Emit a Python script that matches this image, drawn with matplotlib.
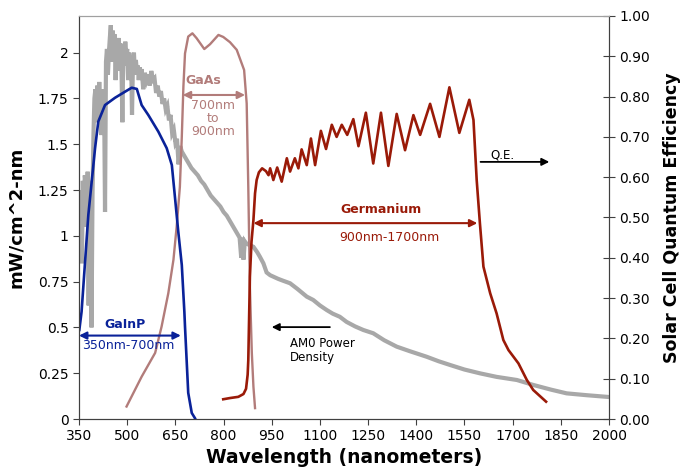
import matplotlib
matplotlib.use('Agg')
import matplotlib.pyplot as plt

# AM0 power density (left axis, mW/cm^2-nm)
wl_am0 = [350, 353, 356, 359, 362, 365, 368, 371, 374, 377,
          380, 383, 386, 389, 392, 395, 398, 401, 404, 407,
          410, 413, 416, 419, 422, 425, 428, 431, 434, 437,
          440, 443, 446, 449, 452, 455, 458, 461, 464, 467,
          470, 473, 476, 479, 482, 485, 488, 491, 494, 497,
          500, 503, 506, 509, 512, 515, 518, 521, 524, 527,
          530, 533, 536, 539, 542, 545, 550, 555, 560, 565,
          570, 575, 580, 585, 590, 595, 600, 605, 610, 615,
          620, 625, 630, 635, 640, 645, 650, 655, 660, 665,
          670, 680, 690, 700, 710, 720, 730, 740, 750, 760,
          770, 780, 790, 800, 810, 820, 830, 840, 850, 855,
          858, 862, 866, 870, 880, 893, 905, 913, 924, 934,
          945, 955, 970, 985, 1007, 1030, 1059, 1079, 1100, 1121,
          1140, 1162, 1183, 1210, 1235, 1266, 1300, 1339, 1380, 1432,
          1470, 1505, 1550, 1599, 1650, 1713, 1764, 1820, 1868, 1930, 2000]
am0 = [1.20, 0.95, 1.25, 0.85, 1.30, 1.05, 1.33, 1.28, 1.10, 1.35,
       0.62, 1.30, 1.00, 0.50, 1.22, 1.55, 1.75, 1.80, 1.62, 1.82,
       1.70, 1.84, 1.72, 1.55, 1.80, 1.70, 1.78, 1.13, 1.95, 2.02,
       1.88, 2.00, 2.08, 2.15, 1.95, 2.12, 2.05, 2.10, 1.85, 2.05,
       1.98, 2.08, 1.90, 2.05, 1.95, 1.62, 2.00, 1.93, 2.06, 1.98,
       2.02, 1.85, 2.00, 1.92, 1.98, 1.66, 1.95, 2.00, 1.88, 1.96,
       1.90, 1.93, 1.85, 1.92, 1.88, 1.91, 1.80, 1.89, 1.85, 1.88,
       1.82, 1.90, 1.85, 1.86, 1.78, 1.82, 1.76, 1.79, 1.72, 1.75,
       1.69, 1.71, 1.63, 1.66, 1.56, 1.58, 1.51, 1.53, 1.39, 1.49,
       1.46, 1.43, 1.40, 1.37, 1.35, 1.33, 1.30, 1.28, 1.25, 1.22,
       1.20, 1.18, 1.16, 1.13, 1.11, 1.08, 1.05, 1.02, 0.99, 0.88,
       0.99, 0.87, 0.97, 0.96, 0.95, 0.94, 0.91, 0.886, 0.85, 0.80,
       0.785, 0.777, 0.765, 0.755, 0.741, 0.71, 0.668, 0.65, 0.62, 0.595,
       0.575, 0.558, 0.530, 0.505, 0.486, 0.468, 0.43, 0.395, 0.37, 0.340,
       0.315, 0.295, 0.27, 0.249, 0.23, 0.213, 0.186, 0.16, 0.140, 0.13, 0.12]

# quantum efficiency curves (right axis)
wl_gainp = [351, 358, 379, 400, 410, 431, 462, 493, 514, 530, 545, 566,
            597, 623, 639, 649, 659, 670, 678, 680, 690, 701, 711]
qe_gainp = [0.221, 0.266, 0.506, 0.672, 0.738, 0.779, 0.797, 0.812, 0.822, 0.819, 0.779, 0.754,
            0.713, 0.672, 0.630, 0.548, 0.465, 0.382, 0.266, 0.229, 0.065, 0.015, 0.002]

wl_gaas = [498, 545, 587, 607, 628, 644, 654, 664, 670, 675, 680, 690, 703,
           716, 740, 758, 784, 799, 820, 841, 864, 872, 877, 882, 888, 893, 898]
qe_gaas = [0.031, 0.105, 0.164, 0.229, 0.312, 0.395, 0.477, 0.576, 0.700, 0.825, 0.907, 0.949, 0.957,
           0.945, 0.918, 0.930, 0.953, 0.948, 0.935, 0.916, 0.866, 0.783, 0.576, 0.328, 0.164, 0.080, 0.027]

wl_ge = [799, 820, 846, 862, 870, 875, 877, 879, 882, 887, 893, 898, 903, 910,
         920, 932, 940, 945, 955, 967, 981, 997, 1007, 1022, 1033, 1043, 1059,
         1072, 1085, 1103, 1119, 1137, 1152, 1168, 1185, 1204, 1220, 1243, 1266,
         1290, 1313, 1339, 1365, 1391, 1412, 1443, 1472, 1503, 1534, 1565, 1578,
         1588, 1598, 1609, 1630, 1650, 1671, 1687, 1718, 1744, 1764, 1804]
qe_ge = [0.049, 0.052, 0.055, 0.062, 0.075, 0.110, 0.146, 0.229, 0.353, 0.440, 0.494, 0.560, 0.593, 0.612,
         0.622, 0.615, 0.605, 0.622, 0.593, 0.624, 0.589, 0.647, 0.614, 0.647, 0.622, 0.669, 0.630,
         0.696, 0.630, 0.715, 0.670, 0.730, 0.700, 0.730, 0.705, 0.744, 0.677, 0.760, 0.634,
         0.760, 0.628, 0.757, 0.667, 0.754, 0.705, 0.782, 0.700, 0.823, 0.710, 0.792, 0.742,
         0.593, 0.486, 0.378, 0.312, 0.262, 0.196, 0.171, 0.138, 0.097, 0.072, 0.043]

x_ticks = [350, 500, 650, 800, 950, 1100, 1250, 1400, 1550, 1700, 1850, 2000]
left_ticks = [0, 0.25, 0.5, 0.75, 1, 1.25, 1.5, 1.75, 2]
left_labels = ['0', '0.25', '0.5', '0.75', '1', '1.25', '1.5', '1.75', '2']
right_ticks = [0.0, 0.1, 0.2, 0.3, 0.4, 0.5, 0.6, 0.7, 0.8, 0.9, 1.0]

c_gray = '#a8a8a8'
c_blue = '#0a2299'
c_gaas = '#b27c7a'
c_ge = '#9a1a08'

fig = plt.figure(figsize=(6.84, 4.69), dpi=100)
ax1 = fig.add_axes([0.1155, 0.1066, 0.7749, 0.8593])
ax2 = ax1.twinx()

ax1.plot(wl_am0, am0, color=c_gray, lw=3.0, solid_joinstyle='miter')
ax2.plot(wl_gaas, qe_gaas, color=c_gaas, lw=1.7, solid_joinstyle='round')
ax2.plot(wl_gainp, qe_gainp, color=c_blue, lw=1.9, solid_joinstyle='round')
ax2.plot(wl_ge, qe_ge, color=c_ge, lw=1.9, solid_joinstyle='round')

ax1.set_xlim(350, 2000)
ax1.set_ylim(0, 2.2)
ax2.set_ylim(0, 1.0)
ax1.set_xticks(x_ticks)
ax1.set_yticks(left_ticks)
ax1.set_yticklabels(left_labels)
ax2.set_yticks(right_ticks)
ax2.set_yticklabels([f'{t:.2f}' for t in right_ticks])

for ax in (ax1, ax2):
    for s in ('left', 'bottom', 'right'):
        ax.spines[s].set_color('#404040')
    ax.spines['top'].set_color('#a0a0a0')
    ax.spines['top'].set_linewidth(0.8)
ax1.tick_params(axis='both', direction='out', length=4, color='#404040', labelsize=10)
ax2.tick_params(axis='y', direction='inout', length=8, color='#404040', labelsize=10)

ax1.set_xlabel('Wavelength (nanometers)', fontsize=13.5, fontweight='bold', labelpad=3)
ax1.set_ylabel('mW/cm^2-nm', fontsize=13, fontweight='bold', labelpad=9)
ax2.set_ylabel('Solar Cell Quantum Efficiency', fontsize=12.5, fontweight='bold', labelpad=9)

# band annotations
def band(x0, x1, y, color, lw=1.5):
    ax2.annotate('', xy=(x0, y), xytext=(x1, y),
                 arrowprops=dict(arrowstyle='<|-|>', color=color, lw=lw,
                                 mutation_scale=11, shrinkA=0, shrinkB=0))

band(673, 867, 0.804, c_gaas)
ax2.text(736, 0.839, 'GaAs', color=c_gaas, fontsize=9, fontweight='bold', ha='center', va='center')
ax2.text(767, 0.745, '700nm\nto\n900nm', color=c_gaas, fontsize=9, ha='center', va='center',
         linespacing=1.0)

band(350, 667, 0.207, c_blue)
ax2.text(493, 0.235, 'GaInP', color=c_blue, fontsize=9, fontweight='bold', ha='center', va='center')
ax2.text(503, 0.183, '350nm-700nm', color=c_blue, fontsize=9, ha='center', va='center')

band(893, 1590, 0.486, c_ge)
ax2.text(1289, 0.520, 'Germanium', color=c_ge, fontsize=9, fontweight='bold', ha='center', va='center')
ax2.text(1316, 0.450, '900nm-1700nm', color=c_ge, fontsize=9, ha='center', va='center')

ax2.annotate('', xy=(1814, 0.638), xytext=(1600, 0.638),
             arrowprops=dict(arrowstyle='-|>', color='black', lw=1.3,
                             mutation_scale=11, shrinkA=0, shrinkB=0))
ax2.text(1669, 0.656, 'Q.E.', color='black', fontsize=8.5, ha='center', va='center')

ax2.annotate('', xy=(950, 0.228), xytext=(1131, 0.228),
             arrowprops=dict(arrowstyle='-|>', color='black', lw=1.3,
                             mutation_scale=11, shrinkA=0, shrinkB=0))
ax2.text(1007, 0.17, 'AM0 Power\nDensity', color='black', fontsize=8.5, ha='left', va='center',
         linespacing=1.1)

fig.savefig('out.png', dpi=100)
